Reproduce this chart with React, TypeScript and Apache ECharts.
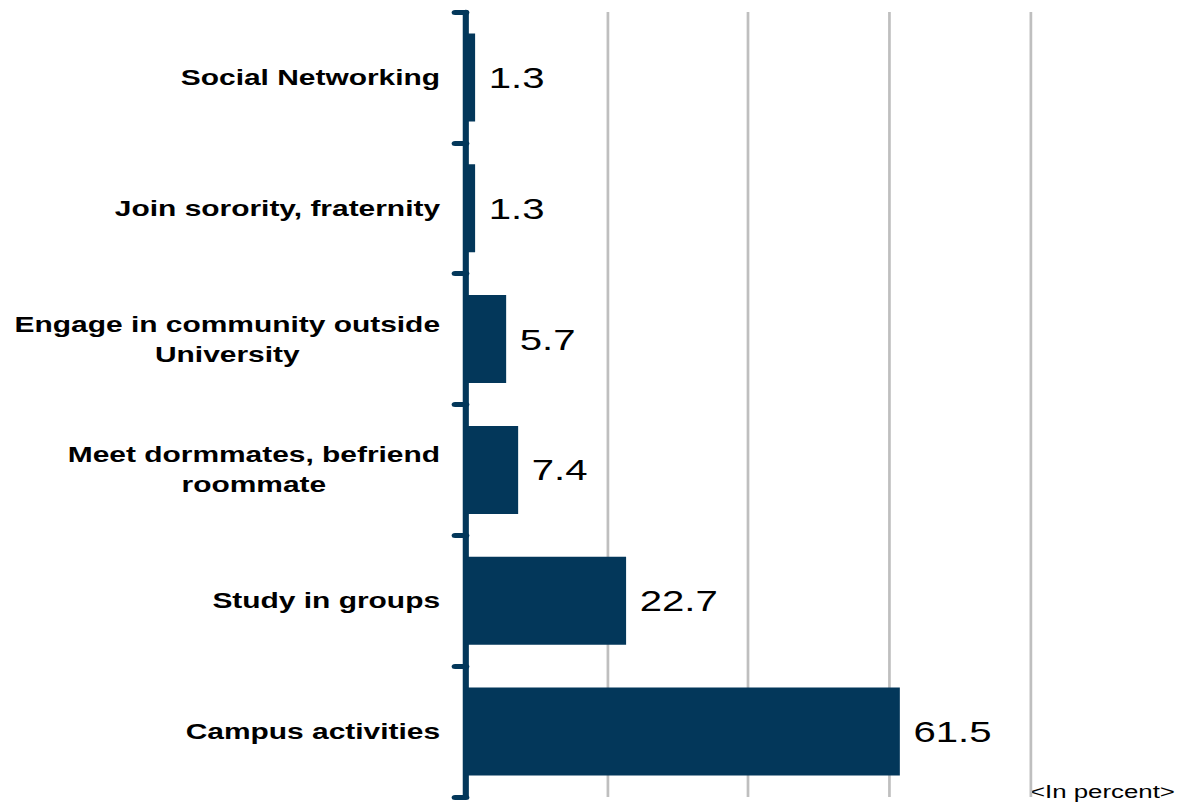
import React, { useEffect, useRef } from "react";
import * as echarts from "echarts";

const categories = [
  "Campus activities",
  "Study in groups",
  "Meet dormmates, befriend\nroommate",
  "Engage in community outside\nUniversity",
  "Join sorority, fraternity",
  "Social Networking",
];
const values = [61.5, 22.7, 7.4, 5.7, 1.3, 1.3];
const axisMax = 80;
const axisInterval = 20;
const unitNote = "<In percent>";

const STRETCH = 1.36;
const BASE_W = 1181 / STRETCH;
const BASE_H = 802;
const NAVY = "#03375A";
const FONT = 'Arial, "Liberation Sans", sans-serif';

export default function App() {
  const ref = useRef<HTMLDivElement>(null);
  useEffect(() => {
    if (!ref.current) return;
    const chart = echarts.init(ref.current, null, { renderer: "svg" });
    chart.setOption({
      animation: false,
      backgroundColor: "#ffffff",
      grid: { left: 342.6, right: BASE_W - 758, top: 12, bottom: 5, containLabel: false },
      xAxis: {
        type: "value",
        min: 0,
        max: axisMax,
        interval: axisInterval,
        axisLabel: { show: false },
        axisLine: { show: false },
        axisTick: { show: false },
        splitLine: { show: true, lineStyle: { color: "#BFBFBF", width: 2 } },
      },
      yAxis: {
        type: "category",
        data: categories,
        axisLine: { show: true, lineStyle: { color: NAVY, width: 4.5, cap: "round" } },
        axisTick: { show: true, length: 8, lineStyle: { color: NAVY, width: 5, cap: "round" } },
        axisLabel: {
          margin: 19,
          color: "#000",
          fontFamily: FONT,
          fontWeight: "bold",
          fontSize: 22,
          lineHeight: 30,
          formatter: (v: string) =>
            v
              .split("\n")
              .map((l) => `{c|${l}}`)
              .join("\n"),
          rich: {
            c: {
              align: "center",
              color: "#000",
              fontFamily: FONT,
              fontWeight: "bold",
              fontSize: 22,
              lineHeight: 30,
            },
          },
        },
      },
      series: [
        {
          type: "bar",
          data: values,
          barWidth: 88,
          itemStyle: { color: NAVY },
          label: {
            show: true,
            position: "right",
            distance: 10,
            color: "#000",
            fontFamily: FONT,
            fontSize: 29.5,
            formatter: (p: any) => String(p.value),
          },
        },
      ],
      graphic: [
        {
          type: "text",
          right: 4,
          bottom: 1,
          style: { text: unitNote, fill: "#000", font: `19px ${FONT}` },
        },
      ],
    });
    return () => chart.dispose();
  }, []);
  return (
    <div
      style={{
        position: "fixed",
        left: 0,
        top: 0,
        width: 1181,
        height: BASE_H,
        overflow: "hidden",
        background: "#fff",
      }}
    >
      <div
        ref={ref}
        style={{
          width: BASE_W,
          height: BASE_H,
          transform: `scaleX(${STRETCH})`,
          transformOrigin: "left top",
        }}
      />
    </div>
  );
}
